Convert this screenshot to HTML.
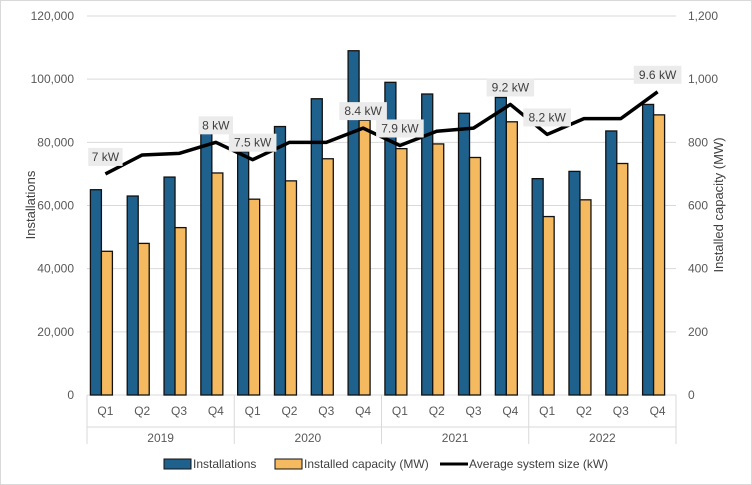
<!DOCTYPE html>
<html><head><meta charset="utf-8"><style>
body{margin:0;background:#fff}
svg{display:block;font-family:"Liberation Sans",sans-serif}
</style></head><body>
<svg id="c" width="752" height="485" viewBox="0 0 752 485">
<rect x="0.5" y="0.5" width="751" height="484" fill="#fff" stroke="#d9d9d9"/>
<g id="grid"></g><g id="bars"></g><g id="line"></g><g id="labels"></g><g id="axes"></g>
<g font-size="12" fill="#404040">
<rect x="164" y="459" width="27" height="10" fill="#1f618d" stroke="#111"/>
<text x="193" y="468">Installations</text>
<rect x="275" y="459" width="27" height="10" fill="#f5b95f" stroke="#111"/>
<text x="304" y="468">Installed capacity (MW)</text>
<line x1="440" y1="464" x2="468" y2="464" stroke="#000" stroke-width="3"/>
<text x="469" y="468">Average system size (kW)</text>
</g>
<text transform="translate(35,205) rotate(-90)" text-anchor="middle" font-size="13" fill="#404040">Installations</text>
<text transform="translate(723,205) rotate(-90)" text-anchor="middle" font-size="13" fill="#404040">Installed capacity (MW)</text>
</svg>
<script>
const years=["2019","2020","2021","2022"];
const quarters=["Q1","Q2","Q3","Q4"];
const installations=[65000,63000,69000,83500,77000,85000,93800,109000,99000,95300,89200,94200,68500,70800,83600,92000];
const capacityMW=[455,480,530,703,620,678,748,870,780,795,752,865,565,618,733,887];
const avgSizeKW=[7.0,7.6,7.65,8.0,7.45,8.0,8.0,8.45,7.9,8.35,8.45,9.2,8.25,8.75,8.75,9.6];
const avgLabels=["7 kW","","","8 kW","7.5 kW","","","8.4 kW","7.9 kW","","","9.2 kW","8.2 kW","","","9.6 kW"];
const leftTicks=[0,20000,40000,60000,80000,100000,120000];
const rightTicks=[0,200,400,600,800,1000,1200];
const NS="http://www.w3.org/2000/svg";
const X0=87,X1=676,Y0=395,Y1=16;
const n=installations.length,bw=(X1-X0)/n;
const yL=v=>Y0-(v/120000)*(Y0-Y1);
const yR=v=>Y0-(v/1200)*(Y0-Y1);
const xC=i=>X0+(i+0.5)*bw;
function mk(t,a,p){const e=document.createElementNS(NS,t);for(const k in a)e.setAttribute(k,a[k]);(p||document.getElementById('axes')).appendChild(e);return e;}
const grid=document.getElementById('grid');
leftTicks.forEach((t,i)=>{
 const l=mk('line',{x1:X0,x2:X1,y1:yL(t),y2:yL(t),stroke:'#d9d9d9'},grid);
 
 
 const a=mk('text',{x:74,y:yL(t)+4,'text-anchor':'end','font-size':'12',fill:'#595959'});
 a.textContent=t.toLocaleString('en-US');
 
 
 const b=mk('text',{x:688,y:yR(rightTicks[i])+4,'font-size':'12',fill:'#595959'});
 b.textContent=rightTicks[i].toLocaleString('en-US');
 
 
});
// category axis
for(let g=0;g<=years.length;g++){
 const x=X0+g*4*bw;
 const d=mk('line',{x1:x,x2:x,y1:Y0,y2:452-8,stroke:'#d9d9d9'});
 
 
}
mk('line',{x1:X0,x2:X1,y1:427,y2:427,stroke:'#d9d9d9'});
for(let i=0;i<n;i++){
 const t=mk('text',{x:xC(i),y:415,'text-anchor':'middle','font-size':'12',fill:'#595959'});
 t.textContent=quarters[i%4];
 
 
}
years.forEach((y,g)=>{
 const t=mk('text',{x:X0+(g*4+2)*bw,y:442,'text-anchor':'middle','font-size':'12',fill:'#595959'});
 t.textContent=y;
 
 
});
const bars=document.getElementById('bars'),W=11;
for(let i=0;i<n;i++){
 const c=xC(i)-4;
 const b1=mk('rect',{x:c-W,y:yL(installations[i]),width:W,height:Y0-yL(installations[i]),fill:'#1f618d',stroke:'#111','stroke-width':'1.3'},bars);
 
 
 const b2=mk('rect',{x:c,y:yR(capacityMW[i]),width:W,height:Y0-yR(capacityMW[i]),fill:'#f5b95f',stroke:'#111','stroke-width':'1.3'},bars);
 
 
}
const pts=avgSizeKW.map((v,i)=>xC(i)+','+yR(v*100)).join(' ');
const pl=mk('polyline',{points:pts,fill:'none',stroke:'#000','stroke-width':'3.5','stroke-linejoin':'round'},document.getElementById('line'));


const lg=document.getElementById('labels');
avgLabels.forEach((s,i)=>{
 if(!s)return;
 const w=s.length*6.6+8,x=xC(i),y=yR(avgSizeKW[i]*100)-26;
 const r=mk('rect',{x:x-w/2,y:y,width:w,height:18,fill:'#ebebeb'},lg);
 
 
 const t=mk('text',{x:x,y:y+13,'text-anchor':'middle','font-size':'12',fill:'#404040'},lg);
 t.textContent=s;
 
 
});
</script>
</body></html>
